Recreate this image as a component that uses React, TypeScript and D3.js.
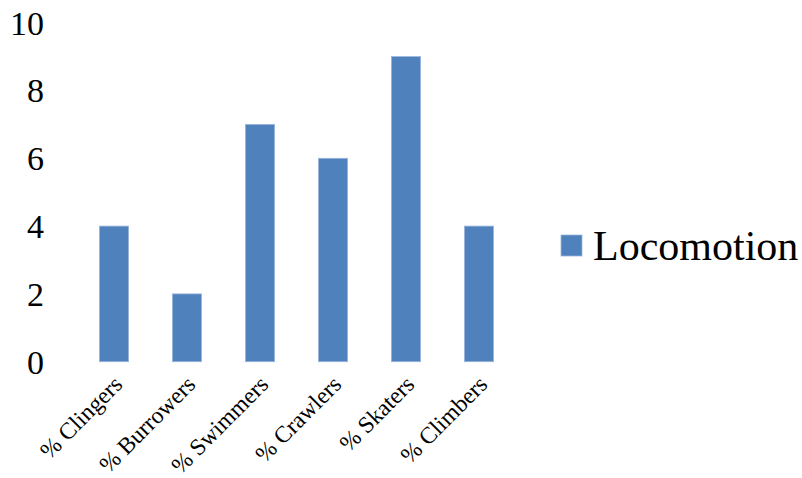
import React from "react";
import * as d3 from "d3";

const categories = ["% Clingers", "% Burrowers", "% Swimmers", "% Crawlers", "% Skaters", "% Climbers"];
const values = [4, 2, 7, 6, 9, 4];
const yTicks = [0, 2, 4, 6, 8, 10];
const seriesName = "Locomotion";

const W = 802;
const H = 478;
const FONT = "'Liberation Serif', 'Times New Roman', serif";
const BAR = "#4F81BD";

export default function App() {
  const x = d3.scaleBand<string>().domain(categories).range([77.5, 515.5]).paddingInner(0.6).paddingOuter(0.3);
  const y = d3.scaleLinear().domain([0, 10]).range([361.7, 22.7]);

  return (
    <svg width={W} height={H} style={{ position: "absolute", left: 0, top: 0, background: "#fff" }}>
      <rect width={W} height={H} fill="#fff" />
      {yTicks.map((t) => (
        <text key={t} x={44} y={y(t)} dy="0.35em" textAnchor="end" fontFamily={FONT} fontSize={34} fill="#000">
          {t}
        </text>
      ))}
      {categories.map((c, i) => (
        <rect
          key={c}
          x={x(c)}
          y={y(values[i])}
          width={x.bandwidth()}
          height={y(0) - y(values[i])}
          fill={BAR}
          stroke="#9ab6dc"
          strokeWidth={0.8}
        />
      ))}
      {categories.map((c) => {
        const cx = (x(c) as number) + x.bandwidth() / 2 + 4;
        const cy = 380;
        return (
          <text
            key={c}
            transform={`translate(${cx},${cy}) rotate(-45)`}
            textAnchor="end"
            dy="0.35em"
            fontFamily={FONT}
            fontSize={23.5}
            fill="#000"
          >
            {c}
          </text>
        );
      })}
      <rect x={561} y={235} width={21} height={21} fill={BAR} stroke="#9ab6dc" strokeWidth={0.8} />
      <text x={593} y={260} fontFamily={FONT} fontSize={42} fill="#000">
        {seriesName}
      </text>
    </svg>
  );
}
